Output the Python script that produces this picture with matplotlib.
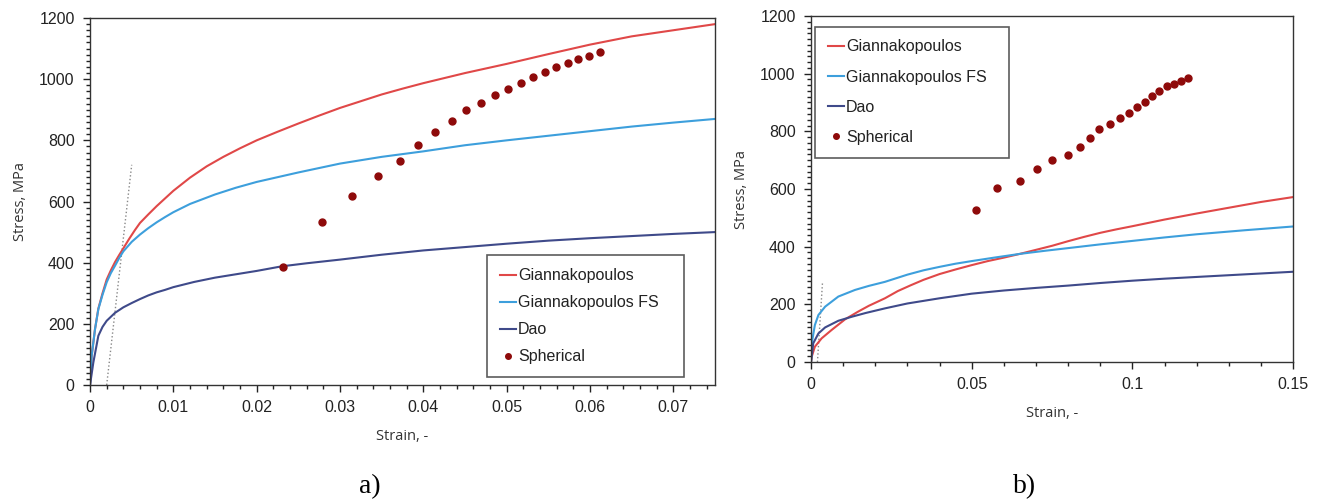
import matplotlib
matplotlib.use("Agg")
import matplotlib.pyplot as plt
from matplotlib.ticker import MultipleLocator, FuncFormatter

# ---- panel a) data (read off the figure) ----
gian_a_x = [0, 0.0002, 0.0006, 0.001, 0.0015, 0.002, 0.0025, 0.003, 0.0035, 0.004, 0.0047, 0.0054,
            0.006, 0.007, 0.008, 0.009, 0.010, 0.012, 0.014, 0.016, 0.018, 0.020, 0.0225, 0.025,
            0.0275, 0.030, 0.0325, 0.035, 0.0375, 0.040, 0.045, 0.050, 0.055, 0.060, 0.065,
            0.070, 0.075]
gian_a_y = [0, 96, 183, 250, 300, 345, 375, 402, 425, 447, 478, 507,
            530, 558, 585, 610, 635, 678, 715, 746, 774, 800, 828, 855,
            881, 906, 928, 950, 969, 987, 1020, 1050, 1082, 1113, 1140,
            1160, 1180]

gianfs_a_x = [0, 0.0002, 0.0006, 0.001, 0.0015, 0.002, 0.0025, 0.003, 0.0035, 0.004, 0.005, 0.006,
              0.007, 0.008, 0.009, 0.010, 0.012, 0.015, 0.0175, 0.020, 0.025, 0.030, 0.035,
              0.040, 0.045, 0.050, 0.055, 0.060, 0.065, 0.070, 0.075]
gianfs_a_y = [0, 96, 183, 248, 295, 336, 366, 390, 415, 437, 468, 492,
              513, 532, 549, 565, 592, 623, 645, 664, 695, 724, 746,
              764, 784, 800, 815, 830, 845, 858, 870]

dao_a_x = [0, 0.0004, 0.001, 0.0015, 0.002, 0.003, 0.004, 0.005, 0.006, 0.007, 0.008, 0.009,
           0.010, 0.0125, 0.015, 0.0175, 0.020, 0.023, 0.026, 0.030, 0.035, 0.040, 0.045,
           0.050, 0.055, 0.060, 0.065, 0.070, 0.075]
dao_a_y = [0, 74, 161, 190, 210, 236, 254, 268, 281, 293, 303, 311,
           320, 337, 351, 362, 373, 388, 398, 410, 426, 440, 451,
           462, 472, 480, 487, 494, 500]

sph_a_x = [0.0232, 0.0278, 0.0314, 0.0345, 0.0372, 0.0394, 0.0414, 0.0434, 0.0451, 0.0469,
           0.0486, 0.0501, 0.0517, 0.0531, 0.0546, 0.0559, 0.0573, 0.0586, 0.0599, 0.0612]
sph_a_y = [387, 532, 618, 684, 732, 786, 828, 863, 898, 923,
           947, 969, 988, 1007, 1023, 1040, 1053, 1066, 1077, 1089]

offset_a_x = [0.002, 0.005]
offset_a_y = [0, 720]

# ---- panel b) data ----
gian_b_x = [0, 0.0002, 0.0012, 0.0033, 0.0064, 0.0106, 0.0147, 0.018, 0.023, 0.027, 0.031,
            0.035, 0.040, 0.045, 0.050, 0.055, 0.060, 0.065, 0.070, 0.075, 0.080, 0.085,
            0.090, 0.095, 0.100, 0.110, 0.120, 0.130, 0.140, 0.150]
gian_b_y = [0, 18, 53, 82, 111, 148, 175, 195, 221, 246, 266,
            285, 305, 321, 336, 350, 362, 375, 389, 403, 419, 434,
            448, 460, 471, 494, 515, 535, 555, 572]

gianfs_b_x = [0, 0.0004, 0.0012, 0.0023, 0.0044, 0.0085, 0.0137, 0.018, 0.023, 0.030, 0.035,
              0.040, 0.045, 0.050, 0.057, 0.065, 0.073, 0.080, 0.090, 0.100, 0.110, 0.120,
              0.135, 0.150]
gianfs_b_y = [0, 76, 128, 163, 192, 227, 250, 264, 278, 303, 318,
              330, 341, 350, 362, 375, 386, 395, 408, 420, 432, 443,
              457, 470]

dao_b_x = [0, 0.0007, 0.0023, 0.0044, 0.0085, 0.0127, 0.017, 0.023, 0.030, 0.040, 0.050,
           0.060, 0.070, 0.080, 0.090, 0.100, 0.110, 0.120, 0.135, 0.150]
dao_b_y = [0, 65, 99, 120, 143, 157, 170, 186, 203, 221, 237,
           248, 257, 265, 274, 282, 289, 295, 304, 313]

sph_b_x = [0.0512, 0.0579, 0.0651, 0.0703, 0.0751, 0.0801, 0.0838, 0.0868, 0.0897, 0.0929,
           0.0960, 0.0988, 0.1013, 0.1038, 0.1062, 0.1084, 0.1108, 0.1130, 0.1152, 0.1174]
sph_b_y = [528, 602, 628, 671, 700, 717, 744, 778, 807, 826,
           845, 865, 886, 903, 921, 939, 957, 963, 975, 984]

offset_b_x = [0.002, 0.0036]
offset_b_y = [0, 280]

labels = ["Giannakopoulos", "Giannakopoulos FS", "Dao", "Spherical"]
red, lblue, dblue, dots = "#e04848", "#3d9fdc", "#3f4a8a", "#8e0a0a"

tick_font = "Liberation Sans"
label_font = "Open Sans"


def fmt_x(v, pos):
    if abs(v) < 1e-12:
        return "0"
    return ("%.3f" % v).rstrip("0").rstrip(".")


def style_axes(ax, xmax, xmaj, xmin):
    ax.set_xlim(0, xmax)
    ax.set_ylim(0, 1200)
    ax.xaxis.set_major_locator(MultipleLocator(xmaj))
    ax.xaxis.set_minor_locator(MultipleLocator(xmin))
    ax.yaxis.set_major_locator(MultipleLocator(200))
    ax.yaxis.set_minor_locator(MultipleLocator(20))
    ax.xaxis.set_major_formatter(FuncFormatter(fmt_x))
    ax.tick_params(which="major", direction="out", length=5, width=1, labelsize=11.5,
                   colors="#222222", pad=6)
    ax.tick_params(which="minor", direction="out", length=3, width=1, colors="#222222")
    for lab in ax.get_xticklabels() + ax.get_yticklabels():
        lab.set_fontfamily(tick_font)
    for s in ax.spines.values():
        s.set_color("#333333")
        s.set_linewidth(1.0)
    ax.set_xlabel("Strain, -", fontsize=10.5, family=label_font, color="#333333", labelpad=10)
    ax.set_ylabel("Stress, MPa", fontsize=10.5, family=label_font, color="#333333", labelpad=8)


fig = plt.figure(figsize=(13.2, 5.03), dpi=100)
ax1 = fig.add_axes([0.0682, 0.2346, 0.4735, 0.7296])
ax2 = fig.add_axes([0.6144, 0.2803, 0.3652, 0.6879])

for ax, d in [(ax1, (offset_a_x, offset_a_y, gian_a_x, gian_a_y, gianfs_a_x, gianfs_a_y,
                     dao_a_x, dao_a_y, sph_a_x, sph_a_y)),
              (ax2, (offset_b_x, offset_b_y, gian_b_x, gian_b_y, gianfs_b_x, gianfs_b_y,
                     dao_b_x, dao_b_y, sph_b_x, sph_b_y))]:
    ax.plot(d[0], d[1], ls=":", color="#888888", lw=1.0)
    ax.plot(d[2], d[3], color=red, lw=1.5, label=labels[0])
    ax.plot(d[4], d[5], color=lblue, lw=1.5, label=labels[1])
    ax.plot(d[6], d[7], color=dblue, lw=1.5, label=labels[2])
    ax.plot(d[8], d[9], "o", color=dots, ms=5, ls="none", label=labels[3])

style_axes(ax1, 0.075, 0.01, 0.002)
style_axes(ax2, 0.15, 0.05, 0.01)

leg_kw = dict(frameon=True, fancybox=False, handlelength=1.0, handletextpad=0.15,
              prop={"family": tick_font, "size": 11.5}, borderpad=0.8, markerscale=0.8)
leg1 = ax1.legend(loc="lower left", bbox_to_anchor=(0.635, 0.022, 0.315, 0.332),
                  mode="expand", labelspacing=0.75, borderaxespad=0, **leg_kw)
leg2 = ax2.legend(loc="upper left", bbox_to_anchor=(0.008, 0.59, 0.402, 0.379),
                  mode="expand", labelspacing=0.95, borderaxespad=0, **leg_kw)
for leg in (leg1, leg2):
    leg.get_frame().set_edgecolor("#333333")
    leg.get_frame().set_linewidth(1.2)
    for t in leg.get_texts():
        t.set_color("#222222")

fig.text(370 / 1320, 1 - 487 / 503, "a)", fontsize=20, family="Liberation Serif",
         ha="center", va="center")
fig.text(1025 / 1320, 1 - 487 / 503, "b)", fontsize=20, family="Liberation Serif",
         ha="center", va="center")

fig.savefig("out.png", dpi=100)
